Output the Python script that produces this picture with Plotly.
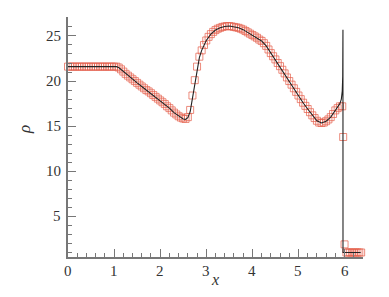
import plotly.graph_objects as go

# Numerical solution (markers)
num_x = [0.00, 0.05, 0.10, 0.15, 0.20, 0.25, 0.30, 0.35, 0.40, 0.45, 0.50, 0.55, 0.60, 0.65, 0.70, 0.75, 0.80, 0.85, 0.90, 0.95, 1.00, 1.05,
         1.10, 1.15, 1.20, 1.25, 1.30, 1.35, 1.40, 1.45, 1.50, 1.55, 1.60, 1.65, 1.70, 1.75, 1.80, 1.85, 1.90, 1.95, 2.00,
         2.05, 2.10, 2.15, 2.20, 2.25, 2.30, 2.35, 2.40, 2.45, 2.50, 2.55, 2.60, 2.65, 2.70, 2.75, 2.80, 2.85, 2.90, 2.95, 3.00,
         3.05, 3.10, 3.15, 3.20, 3.25, 3.30, 3.35, 3.40, 3.45, 3.50, 3.55, 3.60, 3.65, 3.70, 3.75, 3.80, 3.85, 3.90, 3.95, 4.00,
         4.05, 4.10, 4.15, 4.20, 4.25, 4.30, 4.35, 4.40, 4.45, 4.50, 4.55, 4.60, 4.65, 4.70, 4.75, 4.80, 4.85, 4.90, 4.95, 5.00,
         5.05, 5.10, 5.15, 5.20, 5.25, 5.30, 5.35, 5.40, 5.45, 5.50, 5.55, 5.60, 5.65, 5.70, 5.75, 5.80, 5.85, 5.90, 5.95,
         5.97, 6.00, 6.04, 6.08, 6.12, 6.16, 6.20, 6.24, 6.28, 6.32, 6.36]
num_rho = [21.6, 21.6, 21.6, 21.6, 21.6, 21.6, 21.6, 21.6, 21.6, 21.6, 21.6, 21.6, 21.6, 21.6, 21.6, 21.6, 21.6, 21.6, 21.6, 21.6, 21.6, 21.6,
           21.5, 21.3, 21.05, 20.8, 20.6, 20.4, 20.2, 20.0, 19.8, 19.6, 19.4, 19.2, 19.0, 18.85, 18.65, 18.45, 18.25, 18.05, 17.85,
           17.65, 17.45, 17.2, 17.0, 16.75, 16.5, 16.3, 16.1, 15.95, 15.85, 15.8, 16.0, 16.8, 18.4, 20.1, 21.6, 22.7, 23.4, 24.0, 24.5,
           24.9, 25.2, 25.45, 25.65, 25.8, 25.9, 26.0, 26.05, 26.1, 26.1, 26.05, 26.0, 25.95, 25.9, 25.8, 25.7, 25.55, 25.4, 25.25, 25.1,
           24.95, 24.8, 24.6, 24.45, 24.2, 23.9, 23.5, 23.1, 22.75, 22.4, 22.0, 21.65, 21.25, 20.85, 20.4, 20.0, 19.6, 19.2, 18.8, 18.4,
           18.0, 17.6, 17.25, 16.9, 16.55, 16.2, 15.9, 15.6, 15.4, 15.35, 15.4, 15.55, 15.75, 16.0, 16.35, 16.75, 17.0, 17.2, 17.2,
           13.8, 1.9, 1.0, 1.0, 1.0, 1.0, 1.0, 1.0, 1.0, 1.0, 1.0]

# Reference solution (line)
ref_x = [0.00, 1.05, 1.10, 1.20, 1.30, 1.40, 1.50, 1.60, 1.70, 1.80, 1.90, 2.00, 2.10, 2.20, 2.30, 2.40, 2.50, 2.55, 2.60, 2.65,
         2.70, 2.75, 2.80, 2.85, 2.90, 2.95, 3.00, 3.10, 3.20, 3.30, 3.40, 3.50, 3.60, 3.70, 3.80, 3.90, 4.00, 4.10, 4.20, 4.30,
         4.40, 4.50, 4.60, 4.70, 4.80, 4.90, 5.00, 5.10, 5.20, 5.30, 5.40, 5.50, 5.60, 5.70, 5.80, 5.85, 5.90, 5.93, 5.95, 5.96,
         5.965, 5.966, 6.35]
ref_rho = [21.6, 21.6, 21.5, 21.05, 20.6, 20.2, 19.8, 19.4, 19.0, 18.65, 18.25, 17.85, 17.45, 17.0, 16.5, 16.1, 15.8, 15.75, 15.95, 16.6,
           18.2, 19.9, 21.4, 22.6, 23.4, 24.0, 24.5, 25.2, 25.65, 25.9, 26.05, 26.1, 26.0, 25.9, 25.7, 25.4, 25.1, 24.8, 24.45, 23.9,
           23.1, 22.4, 21.65, 20.85, 20.0, 19.2, 18.4, 17.6, 16.9, 16.2, 15.6, 15.35, 15.55, 16.0, 16.75, 17.1, 17.5, 18.0, 18.9, 20.5,
           25.7, 1.0, 1.0]

x_ticks = [0, 1, 2, 3, 4, 5, 6]
y_ticks = [5, 10, 15, 20, 25]

SERIF = "Liberation Serif"
TXT = "#333333"
AX = "#777777"

# figure is drawn inside a page whose body has an 8px margin
FIG_W, FIG_H = 373, 281
ML, MR, MT, MB = 60, 18, 9, 32

fig = go.Figure()
fig.add_trace(go.Scatter(
    x=num_x, y=num_rho, mode="markers",
    marker=dict(symbol="square-open", size=7, color="rgba(228,95,75,0.8)", line=dict(width=0.9)),
    showlegend=False, cliponaxis=False))
fig.add_trace(go.Scatter(
    x=ref_x, y=ref_rho, mode="lines",
    line=dict(color="#222222", width=1.1),
    showlegend=False, cliponaxis=False))

axis_common = dict(
    showgrid=False, zeroline=False, showline=True, linecolor=AX, linewidth=1.5,
    ticks="inside", ticklen=8, tickwidth=1, tickcolor=AX,
    showticklabels=False, automargin=False,
)

pw, ph = FIG_W - ML - MR, FIG_H - MT - MB

def px_to_paper_x(x):
    return (x - 8 - ML) / pw

def px_to_paper_y(y):
    return 1 - (y - 8 - MT) / ph

annotations = [
    dict(text="<i>x</i>", x=px_to_paper_x(215), y=px_to_paper_y(279), xref="paper", yref="paper",
         showarrow=False, xanchor="center", yanchor="middle", borderpad=0,
         font=dict(family=SERIF, size=16, color=TXT)),
    dict(text="<i>ρ</i>", x=px_to_paper_x(24), y=px_to_paper_y(130), xref="paper", yref="paper",
         showarrow=False, xanchor="center", yanchor="middle", textangle=-90,
         font=dict(family=SERIF, size=17, color=TXT)),
]
# tick labels, placed with the axes' own scales
for v in x_ticks:
    annotations.append(dict(text=str(v), x=v, xref="x", y=px_to_paper_y(271), yref="paper",
                            showarrow=False, xanchor="center", yanchor="middle",
                            font=dict(family=SERIF, size=15, color=TXT)))
for v in y_ticks:
    annotations.append(dict(text=str(v), y=v, yref="y", x=px_to_paper_x(63), xref="paper",
                            showarrow=False, xanchor="right", yanchor="middle",
                            font=dict(family=SERIF, size=15, color=TXT)))

fig.update_layout(
    width=FIG_W, height=FIG_H,
    margin=dict(l=ML, r=MR, t=MT, b=MB),
    font=dict(family=SERIF, color=TXT),
    paper_bgcolor="white", plot_bgcolor="white",
    xaxis=dict(range=[0, 6.4], tickvals=x_ticks,
               minor=dict(dtick=0.2, tick0=0, ticks="inside", ticklen=4, tickcolor=AX),
               **axis_common),
    yaxis=dict(range=[0.5, 27.1], tickvals=y_ticks,
               minor=dict(dtick=1, tick0=0, ticks="inside", ticklen=4, tickcolor=AX),
               **axis_common),
    annotations=annotations,
)

fig.write_html("out.html")
